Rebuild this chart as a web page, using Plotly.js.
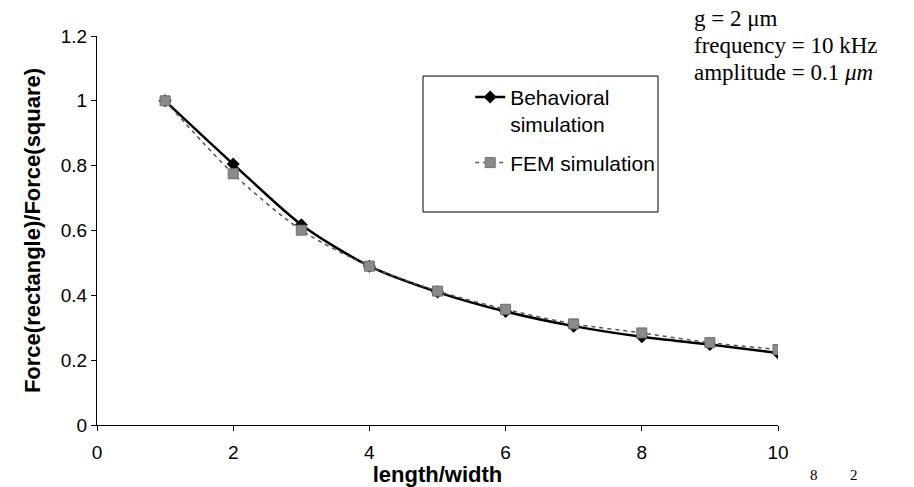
<!DOCTYPE html>
<html>
<head>
<meta charset="utf-8">
<script src="https://cdn.plot.ly/plotly-3.0.1.min.js"></script>
<style>html,body{margin:0;padding:0;background:#fff;}#chart{width:914px;height:487px;}</style>
</head>
<body>
<div id="chart"></div>
<script>
// Data
const ratio = [1, 2, 3, 4, 5, 6, 7, 8, 9, 10];
const behavioral = [1.0, 0.805, 0.618, 0.49, 0.41, 0.35, 0.305, 0.272, 0.248, 0.222];
const fem = [1.0, 0.775, 0.601, 0.49, 0.413, 0.357, 0.312, 0.284, 0.254, 0.233];
const seriesNames = ['Behavioral<br>simulation', 'FEM simulation'];
const xTicks = [0, 2, 4, 6, 8, 10];
const yTicks = [0, 0.2, 0.4, 0.6, 0.8, 1, 1.2];
const yTickText = ['0', '0.2', '0.4', '0.6', '0.8', '1', '1.2'];
const noteLines = ['g = 2 μm', 'frequency = 10 kHz', 'amplitude = 0.1 <i>μm</i>'];

const traces = [
  {
    x: ratio, y: behavioral, name: seriesNames[0], type: 'scatter', mode: 'lines+markers',
    legendgroup: 'b',
    line: {color: '#000000', width: 2.5, shape: 'spline', smoothing: 0.8},
    marker: {symbol: 'diamond', size: 10, color: '#000000'}
  },
  {
    x: ratio, y: fem, name: seriesNames[1], type: 'scatter', mode: 'lines+markers',
    legendgroup: 'f',
    line: {color: '#555555', width: 1.5, dash: '4px,4px', shape: 'spline', smoothing: 0.8},
    marker: {symbol: 'square', size: 10, color: '#8a8a8a', line: {color: '#6e6e6e', width: 1}}
  }
];

const serif = 'Liberation Serif, Times New Roman, serif';
const sans = 'Liberation Sans, Arial, sans-serif';

const annotations = noteLines.map((t, i) => ({
  xref: 'paper', yref: 'paper', x: 0.874, y: 1.046 - i * 0.0695,
  xanchor: 'left', yanchor: 'middle', text: t, showarrow: false,
  font: {family: serif, size: 23, color: '#000'}
}));
annotations.push({xref: 'paper', yref: 'paper', x: 1.053, y: -0.128, xanchor: 'center', yanchor: 'middle',
  text: '8', showarrow: false, font: {family: serif, size: 15, color: '#000'}});
annotations.push({xref: 'paper', yref: 'paper', x: 1.112, y: -0.128, xanchor: 'center', yanchor: 'middle',
  text: '2', showarrow: false, font: {family: serif, size: 15, color: '#000'}});

const layout = {
  width: 914, height: 487,
  margin: {l: 97, r: 136, t: 36, b: 62, pad: 0},
  paper_bgcolor: '#ffffff', plot_bgcolor: '#ffffff',
  font: {family: sans, color: '#000'},
  showlegend: true,
  legend: {
    x: 0.548, y: 0.895, xanchor: 'left', yanchor: 'top',
    bgcolor: 'rgba(0,0,0,0)', borderwidth: 0, valign: 'top',
    traceorder: 'grouped', tracegroupgap: 8,
    font: {family: sans, size: 21, color: '#000'}
  },
  shapes: [{
    type: 'rect', xref: 'paper', yref: 'paper', x0: 0.4787, x1: 0.8238, y0: 0.5476, y1: 0.897,
    line: {color: '#000', width: 1}, fillcolor: 'rgba(0,0,0,0)', layer: 'below'
  }],
  xaxis: {
    range: [0, 10], tickvals: xTicks, ticktext: xTicks.map(String),
    showgrid: false, zeroline: false, showline: true, linecolor: '#000', linewidth: 1,
    ticks: 'outside', ticklen: 5, tickcolor: '#000', mirror: false, ticklabelstandoff: 5,
    tickfont: {family: sans, size: 19, color: '#000'},
    title: {text: '<b>length/width</b>', font: {family: sans, size: 22, color: '#000'}, standoff: 0}
  },
  yaxis: {
    range: [0, 1.2], tickvals: yTicks, ticktext: yTickText,
    showgrid: false, zeroline: false, showline: true, linecolor: '#000', linewidth: 1,
    ticks: 'outside', ticklen: 5, tickcolor: '#000',
    tickfont: {family: sans, size: 19, color: '#000'},
    title: {text: '<b>Force(rectangle)/Force(square)</b>', font: {family: sans, size: 22, color: '#000'}, standoff: 14}
  },
  annotations: annotations
};

Plotly.newPlot('chart', traces, layout, {displayModeBar: false, staticPlot: true});
</script>
</body>
</html>
